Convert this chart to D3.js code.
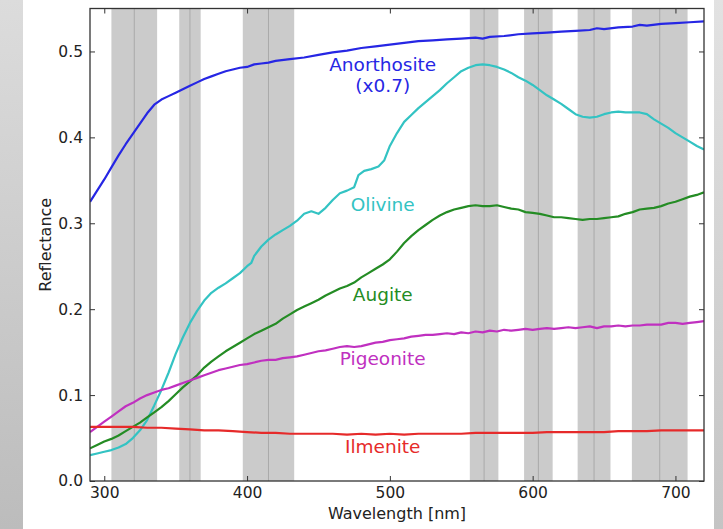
<!DOCTYPE html>
<html>
<head>
<meta charset="utf-8">
<script src="https://cdn.jsdelivr.net/npm/d3@7"></script>
<style>
  html, body { margin: 0; padding: 0; background: #fff; }
  svg { display: block; font-family: "DejaVu Sans", sans-serif; }
</style>
</head>
<body>
<svg id="chart" width="723" height="529"></svg>
<script>
// LROC WAC filter bands: centre and width in nm
var bandCenters = [321, 360, 415, 566, 604, 643, 689];
var bandWidths = [32, 15, 36, 20, 20, 23, 39];

var xTicks = [300, 400, 500, 600, 700];
var yTicks = [0.0, 0.1, 0.2, 0.3, 0.4, 0.5];

// [wavelength nm, reflectance]
var anorthosite = [[290,.325],[295,.338],[300,.351],[305,.365],[310,.379],[315,.392],[320,.404],[325,.416],[330,.428],[335,.438],[340,.444],[345,.448],[350,.452],[355,.456],[360,.460],[365,.464],[370,.468],[375,.471],[380,.474],[385,.477],[390,.479],[395,.481],[400,.482],[405,.485],[410,.486],[415,.487],[420,.489],[430,.491],[440,.493],[450,.496],[460,.499],[470,.501],[480,.504],[490,.506],[500,.508],[510,.510],[520,.512],[530,.513],[540,.514],[550,.515],[560,.516],[565,.515],[570,.517],[580,.518],[590,.520],[600,.521],[610,.522],[620,.523],[630,.524],[640,.525],[645,.527],[650,.526],[660,.528],[670,.529],[675,.531],[680,.530],[690,.532],[700,.533],[710,.534],[720,.535]];
var olivine = [[290,.030],[295,.032],[300,.034],[305,.036],[310,.039],[315,.043],[320,.050],[325,.059],[330,.071],[335,.088],[340,.106],[345,.126],[350,.148],[355,.167],[360,.184],[365,.198],[370,.210],[375,.219],[380,.225],[385,.230],[390,.236],[395,.242],[400,.250],[403,.254],[405,.262],[410,.273],[415,.281],[420,.287],[425,.292],[430,.297],[435,.303],[440,.311],[445,.314],[450,.311],[455,.318],[460,.327],[465,.335],[470,.338],[475,.342],[478,.356],[482,.361],[487,.363],[492,.366],[496,.373],[500,.390],[505,.405],[510,.418],[515,.426],[520,.434],[525,.441],[530,.448],[535,.455],[540,.463],[545,.470],[550,.477],[555,.481],[560,.484],[565,.485],[570,.484],[575,.482],[580,.479],[585,.475],[590,.470],[595,.466],[600,.461],[605,.455],[610,.449],[615,.444],[620,.439],[625,.433],[630,.427],[635,.424],[640,.423],[645,.424],[650,.427],[655,.429],[660,.430],[665,.429],[670,.429],[675,.429],[680,.427],[685,.421],[690,.416],[695,.411],[700,.405],[705,.400],[710,.395],[715,.390],[720,.386]];
var augite = [[290,.038],[295,.042],[300,.046],[305,.049],[310,.053],[315,.058],[320,.063],[325,.068],[330,.074],[335,.080],[340,.086],[345,.093],[350,.101],[355,.109],[360,.116],[365,.123],[370,.132],[375,.139],[380,.145],[385,.151],[390,.156],[395,.161],[400,.166],[405,.171],[410,.175],[415,.179],[420,.183],[425,.189],[430,.194],[435,.199],[440,.203],[445,.207],[450,.211],[455,.216],[460,.220],[465,.224],[470,.227],[475,.231],[480,.237],[485,.242],[490,.247],[495,.252],[500,.258],[505,.267],[510,.277],[515,.285],[520,.292],[525,.298],[530,.304],[535,.309],[540,.313],[545,.316],[550,.318],[555,.320],[560,.321],[565,.320],[570,.320],[575,.321],[580,.319],[585,.317],[590,.316],[595,.313],[600,.312],[605,.311],[610,.309],[615,.307],[620,.307],[625,.306],[630,.305],[635,.304],[640,.305],[645,.305],[650,.306],[655,.307],[660,.308],[665,.311],[670,.313],[675,.316],[680,.317],[685,.318],[690,.320],[695,.323],[700,.325],[705,.328],[710,.331],[715,.333],[720,.336]];
var pigeonite = [[290,.057],[295,.063],[300,.069],[305,.075],[310,.081],[315,.087],[320,.091],[325,.096],[330,.100],[335,.103],[340,.106],[345,.108],[350,.111],[355,.114],[360,.117],[365,.120],[370,.123],[375,.126],[380,.129],[385,.131],[390,.133],[395,.135],[400,.136],[405,.138],[410,.140],[415,.141],[420,.141],[425,.143],[430,.144],[435,.145],[440,.147],[445,.149],[450,.151],[455,.152],[460,.154],[465,.156],[470,.157],[475,.156],[480,.157],[485,.159],[490,.161],[495,.162],[500,.164],[505,.165],[510,.166],[515,.168],[520,.169],[525,.170],[530,.170],[535,.171],[540,.172],[545,.171],[550,.173],[555,.172],[560,.174],[565,.173],[570,.175],[575,.174],[580,.176],[585,.175],[590,.176],[595,.177],[600,.176],[605,.177],[610,.178],[615,.177],[620,.178],[625,.179],[630,.178],[635,.179],[640,.180],[645,.178],[650,.180],[655,.180],[660,.181],[665,.180],[670,.181],[675,.181],[680,.182],[685,.182],[690,.182],[695,.184],[700,.184],[705,.183],[710,.184],[715,.185],[720,.186]];
var ilmenite = [[290,.063],[300,.063],[310,.063],[320,.063],[330,.062],[340,.062],[350,.061],[360,.060],[370,.059],[380,.059],[390,.058],[400,.057],[410,.056],[420,.056],[430,.055],[440,.055],[450,.055],[460,.055],[470,.054],[480,.055],[490,.054],[500,.055],[510,.054],[520,.055],[530,.055],[540,.055],[550,.055],[560,.056],[570,.056],[580,.056],[590,.056],[600,.056],[610,.057],[620,.057],[630,.057],[640,.057],[650,.057],[660,.058],[670,.058],[680,.058],[690,.059],[700,.059],[710,.059],[720,.059]];

var seriesNames = ["Anorthosite", "Olivine", "Augite", "Pigeonite", "Ilmenite"];
var seriesData = [anorthosite, olivine, augite, pigeonite, ilmenite];
var seriesColors = ["#2626e4", "#33c3c3", "#248c24", "#c030c0", "#e62a2a"];
// label anchor in data units (wavelength, reflectance)
var labelText = ["Anorthosite", "(x0.7)", "Olivine", "Augite", "Pigeonite", "Ilmenite"];
var labelAt = [[495, .477], [495, .453], [495, .314], [495, .209], [495, .135], [495, .033]];
var labelColor = [0, 0, 1, 2, 3, 4];

var W = 723, H = 529;
var pLeft = 90, pRight = 704, pTop = 8.5, pBottom = 481;

var svg = d3.select("#chart");
var defs = svg.append("defs");

// grey slide background strips
var gl = defs.append("linearGradient").attr("id", "gl").attr("x1", 0).attr("y1", 0).attr("x2", 0).attr("y2", 1);
gl.append("stop").attr("offset", "0%").attr("stop-color", "#dcdcdc");
gl.append("stop").attr("offset", "100%").attr("stop-color", "#bcbcbc");
var gr = defs.append("linearGradient").attr("id", "gr").attr("x1", 0).attr("y1", 0).attr("x2", 0).attr("y2", 1);
gr.append("stop").attr("offset", "0%").attr("stop-color", "#e2e2e2");
gr.append("stop").attr("offset", "100%").attr("stop-color", "#c4c4c4");
svg.append("rect").attr("x", 0).attr("y", 0).attr("width", 23).attr("height", H).attr("fill", "url(#gl)");
svg.append("rect").attr("x", 714).attr("y", 0).attr("width", W - 714).attr("height", H).attr("fill", "url(#gr)");

defs.append("clipPath").attr("id", "clip")
  .append("rect").attr("x", pLeft).attr("y", pTop).attr("width", pRight - pLeft).attr("height", pBottom - pTop);

var x = d3.scaleLinear().domain([290, 720]).range([pLeft, pRight]);
var y = d3.scaleLinear().domain([0, 0.55]).range([pBottom, pTop]);

var plot = svg.append("g").attr("clip-path", "url(#clip)");

// filter bands
var bands = plot.append("g");
bandCenters.forEach(function(c, i) {
  var w = bandWidths[i];
  bands.append("rect")
    .attr("x", x(c - w / 2))
    .attr("y", pTop)
    .attr("width", x(c + w / 2) - x(c - w / 2))
    .attr("height", pBottom - pTop)
    .attr("fill", "#cbcbcb");
  bands.append("line")
    .attr("x1", x(c)).attr("x2", x(c))
    .attr("y1", pTop).attr("y2", pBottom)
    .attr("stroke", "#a9a9a9").attr("stroke-width", 1);
});

// spectra
var line = d3.line().x(function(d) { return x(d[0]); }).y(function(d) { return y(d[1]); });
seriesData.forEach(function(s, i) {
  plot.append("path")
    .attr("d", line(s))
    .attr("fill", "none")
    .attr("stroke", seriesColors[i])
    .attr("stroke-width", 2.2)
    .attr("stroke-linejoin", "round");
});

// curve labels
labelText.forEach(function(t, i) {
  svg.append("text")
    .attr("x", x(labelAt[i][0]))
    .attr("y", y(labelAt[i][1]))
    .attr("text-anchor", "middle")
    .attr("fill", seriesColors[labelColor[i]])
    .style("font-size", "18.5px")
    .text(t);
});

// axes, ticks pointing inward on all four sides
var axisColor = "#333";
function styleAxis(g) {
  g.select(".domain").remove();
  g.selectAll(".tick line").attr("stroke", axisColor).attr("stroke-width", 1);
  g.selectAll(".tick text").attr("fill", "#222").style("font-size", "15.5px").style("font-family", "DejaVu Sans, sans-serif");
}
svg.append("g").attr("transform", "translate(0," + pBottom + ")")
  .call(d3.axisBottom(x).tickValues(xTicks).tickSizeInner(-5).tickSizeOuter(0).tickPadding(6).tickFormat(d3.format("d")))
  .call(styleAxis);
svg.append("g").attr("transform", "translate(0," + pTop + ")")
  .call(d3.axisTop(x).tickValues(xTicks).tickSizeInner(-5).tickSizeOuter(0).tickFormat(""))
  .call(styleAxis);
svg.append("g").attr("transform", "translate(" + pLeft + ",0)")
  .call(d3.axisLeft(y).tickValues(yTicks).tickSizeInner(-5).tickSizeOuter(0).tickPadding(7).tickFormat(d3.format(".1f")))
  .call(styleAxis);
svg.append("g").attr("transform", "translate(" + pRight + ",0)")
  .call(d3.axisRight(y).tickValues(yTicks).tickSizeInner(-5).tickSizeOuter(0).tickFormat(""))
  .call(styleAxis);

svg.append("rect")
  .attr("x", pLeft).attr("y", pTop)
  .attr("width", pRight - pLeft).attr("height", pBottom - pTop)
  .attr("fill", "none").attr("stroke", axisColor).attr("stroke-width", 1.3);

svg.append("text")
  .attr("x", (pLeft + pRight) / 2).attr("y", 519)
  .attr("text-anchor", "middle").attr("fill", "#222")
  .style("font-size", "16px")
  .text("Wavelength [nm]");
svg.append("text")
  .attr("transform", "translate(50.5," + (pTop + pBottom) / 2 + ") rotate(-90)")
  .attr("text-anchor", "middle").attr("fill", "#222")
  .style("font-size", "16px")
  .text("Reflectance");
</script>
</body>
</html>
